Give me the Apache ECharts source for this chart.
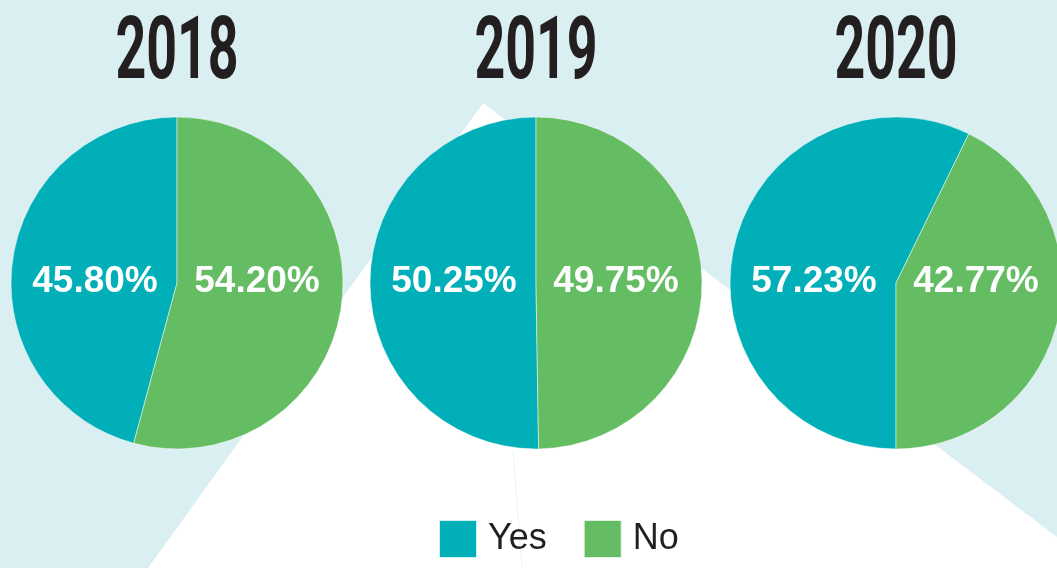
<!DOCTYPE html>
<html><head><meta charset="utf-8">
<script src="https://cdn.jsdelivr.net/npm/echarts@6/dist/echarts.min.js"></script>
<style>html,body{margin:0;padding:0;overflow:hidden;background:#daeff2}#c{width:1057px;height:568px}</style>
</head><body><div id="c"></div>
<script>
// ---- data ----
const years = ['2018', '2019', '2020'];
const categories = ['Yes', 'No'];
const yesPct = [45.80, 50.25, 57.23];
const noPct = [54.20, 49.75, 42.77];

// ---- layout (not data) ----
const centers = [[177, 283], [536, 283], [896, 283]];
const radius = 166;
const startAngles = [90, 90, -90];
const clockwiseFlags = [false, false, true];
const colors = ['#01afb8', '#64bd62'];

const chart = echarts.init(document.getElementById('c'), null, {renderer: 'canvas'});

const series = years.map((y, i) => ({
  type: 'pie',
  name: y,
  center: centers[i],
  radius: radius,
  startAngle: startAngles[i],
  clockwise: clockwiseFlags[i],
  silent: true,
  animation: false,
  avoidLabelOverlap: false,
  itemStyle: {borderColor: 'rgba(255,255,255,0.8)', borderWidth: 0.6},
  label: {
    show: true,
    position: 'inside',
    formatter: p => p.value.toFixed(2) + '%',
    color: '#ffffff',
    fontSize: 37,
    fontWeight: 'bold',
    fontFamily: '"Liberation Sans", Arial, sans-serif'
  },
  labelLine: {show: false},
  labelLayout: params => ({
    x: centers[params.seriesIndex][0] + (params.dataIndex === 0 ? -82 : 80),
    y: 282,
    align: 'center',
    verticalAlign: 'middle'
  }),
  emphasis: {disabled: true},
  data: [
    {name: categories[0], value: yesPct[i]},
    {name: categories[1], value: noPct[i]}
  ]
}));

const titleGraphics = years.map((y, i) => ({
  type: 'text',
  x: centers[i][0],
  y: 12,
  scaleX: 0.61,
  z: 10,
  style: {
    text: y,
    fill: '#231f20',
    font: 'bold 88px Roboto, "DejaVu Sans Condensed", sans-serif',
    textAlign: 'center',
    textVerticalAlign: 'top'
  }
}));

chart.setOption({
  backgroundColor: '#daeff2',
  color: colors,
  animation: false,
  legend: {
    data: categories,
    left: 438,
    top: 519,
    padding: 0,
    icon: 'rect',
    itemWidth: 38,
    itemHeight: 38,
    itemGap: 36,
    selectedMode: false,
    textStyle: {
      color: '#231f20',
      fontSize: 36,
      fontFamily: '"Liberation Sans", Arial, sans-serif',
      padding: [0, 0, 0, 6]
    }
  },
  graphic: [
    {
      type: 'polygon',
      z: -10,
      silent: true,
      shape: {points: [[483, 103], [1057, 537], [1057, 568], [148, 568]]},
      style: {fill: '#ffffff'}
    },
    {
      type: 'line',
      z: -9,
      silent: true,
      shape: {x1: 513, y1: 450, x2: 522, y2: 568},
      style: {stroke: '#e8f5f7', lineWidth: 1}
    }
  ].concat(titleGraphics),
  series: series
});
</script>
</body></html>
